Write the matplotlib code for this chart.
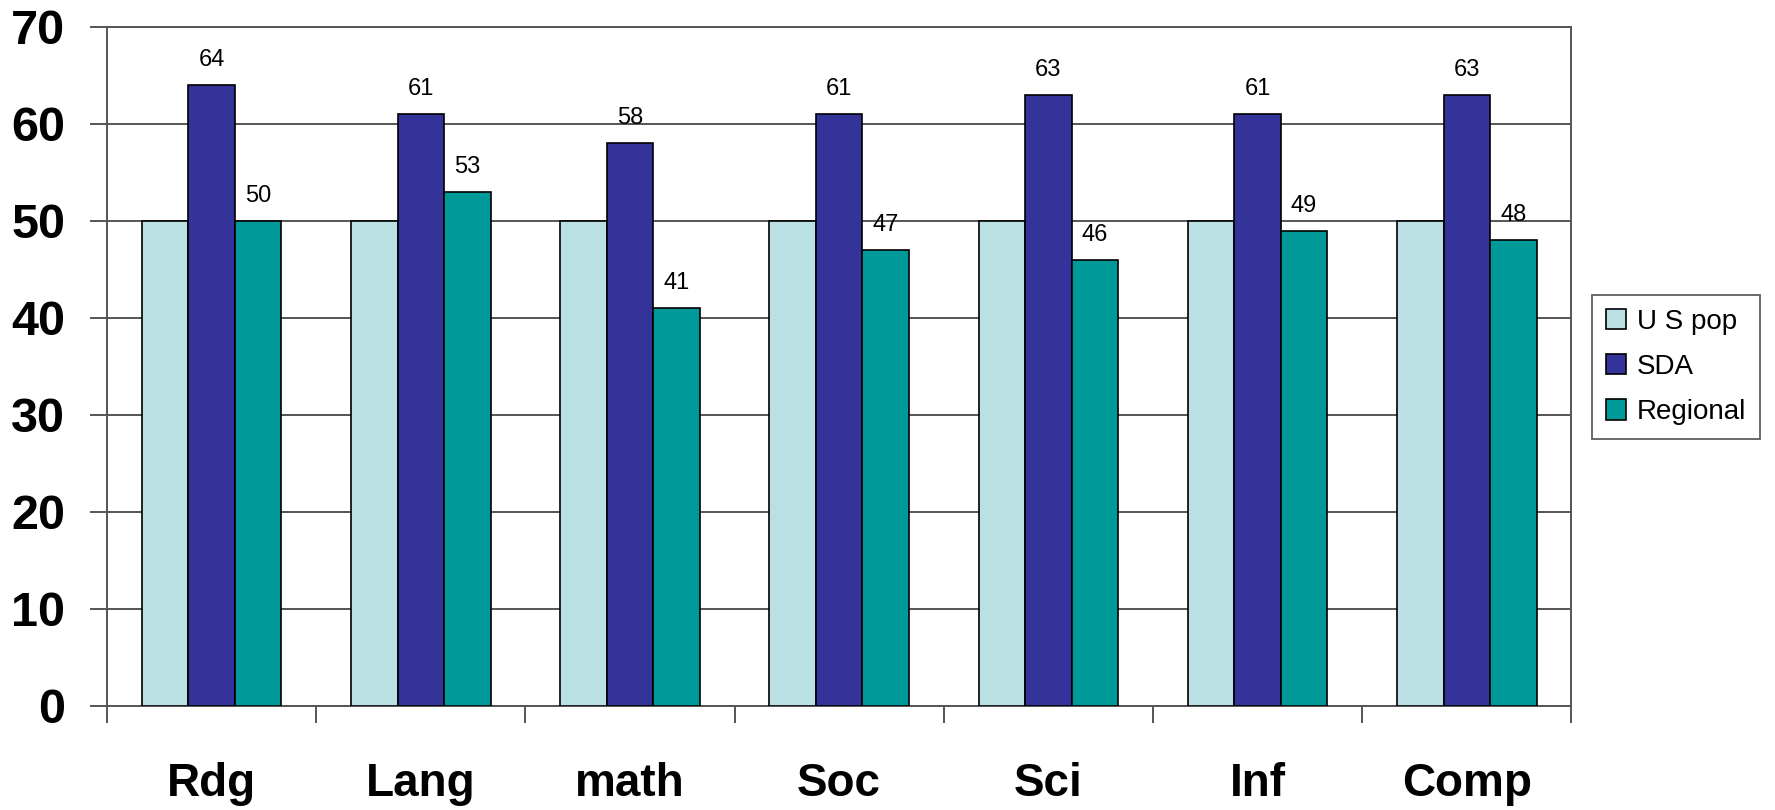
import matplotlib.pyplot as plt
import numpy as np

categories = ['Rdg', 'Lang', 'math', 'Soc', 'Sci', 'Inf', 'Comp']
us_pop = [50, 50, 50, 50, 50, 50, 50]
sda = [64, 61, 58, 61, 63, 61, 63]
regional = [50, 53, 41, 47, 46, 49, 48]

series_names = ['U S pop', 'SDA', 'Regional']
colors = ['#BBE0E3', '#333399', '#009999']

plt.rcParams['font.family'] = ['Liberation Sans', 'DejaVu Sans']

fig = plt.figure(figsize=(17.75, 8.1), dpi=100)
ax = fig.add_axes([0.0603, 0.1284, 0.825, 0.8383])

x = np.arange(len(categories))
w = 1 / 4.5
all_series = [us_pop, sda, regional]
for k, (vals, name, col) in enumerate(zip(all_series, series_names, colors)):
    bars = ax.bar(x + (k - 1) * w, vals, width=w, color=col, edgecolor='black',
                  linewidth=1.2, label=name, zorder=3)
    if k > 0:
        for b, v in zip(bars, vals):
            ax.annotate(str(v), (b.get_x() + b.get_width() / 2, v),
                        xytext=(0, 10), textcoords='offset points',
                        ha='center', va='bottom', fontsize=17, zorder=4)

ax.set_xlim(-0.5, len(categories) - 0.5)
ax.set_ylim(0, 70)
ax.set_yticks(range(0, 71, 10))
ax.yaxis.grid(True, color='#555555', linewidth=1.4, zorder=0)
ax.set_axisbelow(True)

ax.set_xticks(x)
ax.set_xticklabels(categories, fontsize=33, fontweight='bold')
ax.set_xticks(np.arange(-0.5, len(categories)), minor=True)
ax.tick_params(axis='x', which='major', length=0, pad=40)
ax.tick_params(axis='x', which='minor', length=12, width=1.4, color='#555555')
ax.tick_params(axis='y', length=12, width=1.4, color='#555555', pad=18,
               labelsize=35)
for lbl in ax.get_yticklabels():
    lbl.set_fontweight('bold')

for side in ['left', 'bottom', 'top', 'right']:
    ax.spines[side].set_color('#555555')
    ax.spines[side].set_linewidth(1.4)

leg = ax.legend(loc='upper left', bbox_to_anchor=(0.897, 0.636),
                bbox_transform=fig.transFigure, fontsize=20,
                frameon=True, fancybox=False, edgecolor='#444444',
                handlelength=0.7, handleheight=0.75, handletextpad=0.4,
                labelspacing=0.69, borderpad=0.5, borderaxespad=0)
leg.get_frame().set_linewidth(1.4)

fig.savefig('out.png', dpi=100)
